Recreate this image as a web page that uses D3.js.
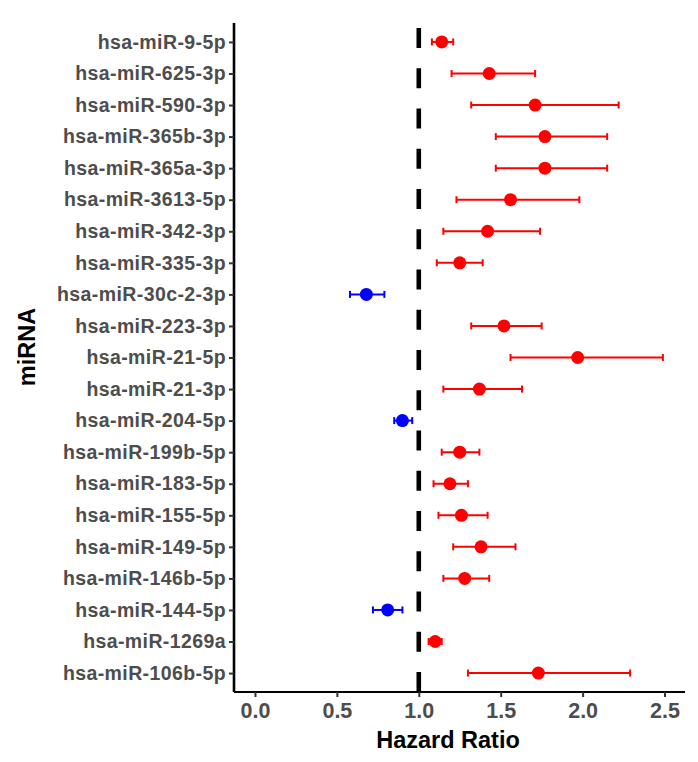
<!DOCTYPE html>
<html>
<head>
<meta charset="utf-8">
<script src="https://cdn.jsdelivr.net/npm/d3@7"></script>
<style>
  html, body { margin: 0; padding: 0; background: #fff; }
  svg { display: block; }
</style>
</head>
<body>
<svg id="chart" width="698" height="762"></svg>
<script>
// ---- data (top to bottom) ----
const mirnas = ["hsa-miR-9-5p","hsa-miR-625-3p","hsa-miR-590-3p","hsa-miR-365b-3p","hsa-miR-365a-3p",
  "hsa-miR-3613-5p","hsa-miR-342-3p","hsa-miR-335-3p","hsa-miR-30c-2-3p","hsa-miR-223-3p",
  "hsa-miR-21-5p","hsa-miR-21-3p","hsa-miR-204-5p","hsa-miR-199b-5p","hsa-miR-183-5p",
  "hsa-miR-155-5p","hsa-miR-149-5p","hsa-miR-146b-5p","hsa-miR-144-5p","hsa-miR-1269a","hsa-miR-106b-5p"];
const hr    = [1.14,1.43,1.71,1.77,1.77,1.56,1.42,1.25,0.68,1.52,1.97,1.37,0.90,1.25,1.19,1.26,1.38,1.28,0.81,1.10,1.73];
const lower = [1.08,1.20,1.32,1.47,1.47,1.23,1.15,1.11,0.58,1.32,1.56,1.15,0.85,1.14,1.09,1.12,1.21,1.15,0.72,1.06,1.30];
const upper = [1.21,1.71,2.22,2.15,2.15,1.98,1.74,1.39,0.79,1.75,2.49,1.63,0.96,1.37,1.30,1.42,1.59,1.43,0.90,1.14,2.29];
const xTicks = [0.0, 0.5, 1.0, 1.5, 2.0, 2.5];
const refLine = 1;
const xLabel = "Hazard Ratio";
const yLabel = "miRNA";

const svg = d3.select("#chart");
const panel = {left: 234, right: 685, top: 23, bottom: 692};

const x = d3.scaleLinear().domain([-0.128, 2.625]).range([panel.left, panel.right]);
const y = d3.scalePoint().domain(mirnas).range([panel.top, panel.bottom]).padding(0.6);

const rows = mirnas.map((m, i) => ({m, hr: hr[i], lo: lower[i], hi: upper[i]}));
const col = d => d.hr < 1 ? "#0000FF" : "#FF0000";

// reference dashed line (drawn from bottom up)
svg.append("line")
  .attr("x1", x(refLine)).attr("x2", x(refLine))
  .attr("y1", panel.bottom).attr("y2", panel.top)
  .attr("stroke", "#000").attr("stroke-width", 4.6)
  .attr("stroke-dasharray", "20.1,20.15");

// error bars
const g = svg.append("g");
g.selectAll("line.ci").data(rows).join("line").attr("class","ci")
  .attr("x1", d => x(d.lo)).attr("x2", d => x(d.hi))
  .attr("y1", d => y(d.m)).attr("y2", d => y(d.m))
  .attr("stroke", col).attr("stroke-width", 2);
g.selectAll("line.capL").data(rows).join("line").attr("class","capL")
  .attr("x1", d => x(d.lo)).attr("x2", d => x(d.lo))
  .attr("y1", d => y(d.m) - 3.5).attr("y2", d => y(d.m) + 3.5)
  .attr("stroke", col).attr("stroke-width", 2);
g.selectAll("line.capR").data(rows).join("line").attr("class","capR")
  .attr("x1", d => x(d.hi)).attr("x2", d => x(d.hi))
  .attr("y1", d => y(d.m) - 3.5).attr("y2", d => y(d.m) + 3.5)
  .attr("stroke", col).attr("stroke-width", 2);
g.selectAll("circle").data(rows).join("circle")
  .attr("cx", d => x(d.hr)).attr("cy", d => y(d.m)).attr("r", 6.5)
  .attr("fill", col);

// axes
const yAxis = svg.append("g").attr("transform", `translate(${panel.left},0)`)
  .call(d3.axisLeft(y).tickSize(5).tickPadding(3));
yAxis.select(".domain").attr("d", `M0,${panel.top}V${panel.bottom}`).attr("stroke", "#000").attr("stroke-width", 2.6);
yAxis.selectAll(".tick line").attr("stroke", "#333").attr("stroke-width", 2);
yAxis.selectAll(".tick text")
  .attr("fill", "#4D4D4D").style("font-family", "'Liberation Sans', Arial, sans-serif")
  .style("font-weight", "bold").style("font-size", "19.5px").style("letter-spacing", "0.4px");

const xAxis = svg.append("g").attr("transform", `translate(0,${panel.bottom})`)
  .call(d3.axisBottom(x).tickValues(xTicks).tickFormat(d3.format(".1f")).tickSize(5).tickPadding(6));
xAxis.select(".domain").attr("d", `M${panel.left},0H${panel.right}`).attr("stroke", "#000").attr("stroke-width", 2.2);
xAxis.selectAll(".tick line").attr("stroke", "#333").attr("stroke-width", 2);
xAxis.selectAll(".tick text")
  .attr("fill", "#4D4D4D").style("font-family", "'Liberation Sans', Arial, sans-serif")
  .style("font-weight", "bold").style("font-size", "21.5px");

// titles
svg.append("text").attr("x", 448).attr("y", 748).attr("text-anchor", "middle")
  .style("font-family", "'Liberation Sans', Arial, sans-serif").style("font-weight", "bold")
  .style("font-size", "23.5px").attr("fill", "#000").text(xLabel);
svg.append("text").attr("transform", "translate(35,347) rotate(-90)").attr("text-anchor", "middle")
  .style("font-family", "'Liberation Sans', Arial, sans-serif").style("font-weight", "bold")
  .style("font-size", "23.5px").attr("fill", "#000").text(yLabel);
</script>
</body>
</html>
